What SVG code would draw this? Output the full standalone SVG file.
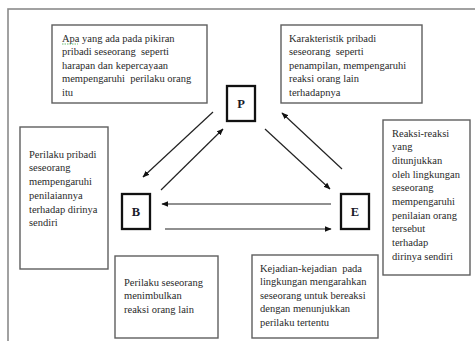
<svg xmlns="http://www.w3.org/2000/svg" width="475" height="341" viewBox="0 0 475 341">
<defs>
<style>
.frame{fill:none;stroke:#8a8a8a;stroke-width:1.6}
.box{fill:#fff;stroke:#5e5e5e;stroke-width:1.4}
.node{fill:#fff;stroke:#111;stroke-width:2.3}
.t{font-family:"Liberation Serif","Times New Roman",serif;font-size:10.5px;fill:#2a2a2a;white-space:pre}
.n{font-family:"Liberation Serif","Times New Roman",serif;font-size:12.5px;font-weight:bold;fill:#1a1a2a;text-anchor:middle}
.c{stroke:#222;stroke-width:1.2;fill:none;marker-end:url(#ah)}
</style>
<marker id="ah" viewBox="0 0 10 10" refX="9" refY="5" markerWidth="7" markerHeight="7" markerUnits="userSpaceOnUse" orient="auto">
<path d="M0,1 L10,5 L0,9 Z" fill="#111"/>
</marker>
</defs>
<rect class="frame" x="8" y="9" width="480" height="350"/>

<g id="box-pikiran">
<rect class="box" x="52" y="25" width="155" height="78"/>
<text class="t" x="62" y="41.5">Apa yang ada pada pikiran</text>
<text class="t" x="62" y="55">pribadi seseorang  seperti</text>
<text class="t" x="62" y="68.5">harapan dan kepercayaan</text>
<text class="t" x="62" y="82">mempengaruhi  perilaku orang</text>
<text class="t" x="62" y="95.5">itu</text>
<line x1="62" y1="44" x2="78" y2="44" stroke="#4caf50" stroke-width="0.8" stroke-dasharray="1.5,1"/>
</g>

<g id="box-karakteristik">
<rect class="box" x="281" y="25" width="141" height="78"/>
<text class="t" x="289" y="41.5">Karakteristik pribadi</text>
<text class="t" x="289" y="55">seseorang  seperti</text>
<text class="t" x="289" y="68.5">penampilan, mempengaruhi</text>
<text class="t" x="289" y="82">reaksi orang lain</text>
<text class="t" x="289" y="95.5">terhadapnya</text>
</g>

<g id="box-perilaku-pribadi">
<rect class="box" x="20" y="127" width="88" height="142"/>
<text class="t" x="29" y="157.5">Perilaku pribadi</text>
<text class="t" x="29" y="171.3">seseorang</text>
<text class="t" x="29" y="185">mempengaruhi</text>
<text class="t" x="29" y="198.8">penilaiannya</text>
<text class="t" x="29" y="212.6">terhadap dirinya</text>
<text class="t" x="29" y="226.4">sendiri</text>
</g>

<g id="box-reaksi">
<rect class="box" x="383" y="120" width="87" height="155"/>
<text class="t" x="392" y="136.5">Reaksi-reaksi</text>
<text class="t" x="392" y="150.2">yang</text>
<text class="t" x="392" y="163.9">ditunjukkan</text>
<text class="t" x="392" y="177.6">oleh lingkungan</text>
<text class="t" x="392" y="191.3">seseorang</text>
<text class="t" x="392" y="205">mempengaruhi</text>
<text class="t" x="392" y="218.7">penilaian orang</text>
<text class="t" x="392" y="232.4">tersebut</text>
<text class="t" x="392" y="246.1">terhadap</text>
<text class="t" x="392" y="259.8">dirinya sendiri</text>
</g>

<g id="box-perilaku-seseorang">
<rect class="box" x="115" y="256" width="103" height="82"/>
<text class="t" x="124" y="285.5">Perilaku seseorang</text>
<text class="t" x="124" y="299">menimbulkan</text>
<text class="t" x="124" y="312.5">reaksi orang lain</text>
</g>

<g id="box-kejadian">
<rect class="box" x="252" y="255" width="126" height="83"/>
<text class="t" x="260" y="271.5">Kejadian-kejadian  pada</text>
<text class="t" x="260" y="285.1">lingkungan mengarahkan</text>
<text class="t" x="260" y="298.7">seseorang untuk bereaksi</text>
<text class="t" x="260" y="312.3">dengan menunjukkan</text>
<text class="t" x="260" y="325.9">perilaku tertentu</text>
</g>

<g id="node-P">
<rect class="node" x="227" y="86" width="28" height="35"/>
<text class="n" x="241" y="108">P</text>
</g>
<g id="node-B">
<rect class="node" x="122" y="194" width="28" height="35"/>
<text class="n" x="136" y="216">B</text>
</g>
<g id="node-E">
<rect class="node" x="341" y="194" width="28" height="35"/>
<text class="n" x="355" y="216">E</text>
</g>

<g id="connectors">
<line class="c" x1="213" y1="112" x2="143" y2="177"/>
<line class="c" x1="161" y1="190" x2="223" y2="129"/>
<line class="c" x1="265" y1="129" x2="330" y2="189"/>
<line class="c" x1="342" y1="169" x2="282" y2="113"/>
<line class="c" x1="331" y1="204" x2="162" y2="204"/>
<line class="c" x1="165" y1="229" x2="331" y2="229"/>
</g>
</svg>
